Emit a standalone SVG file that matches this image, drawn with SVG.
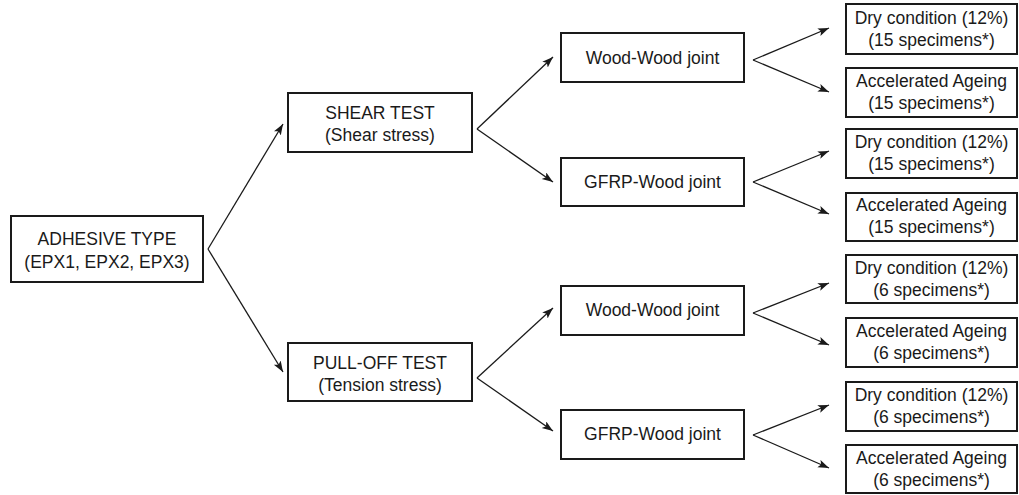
<svg xmlns="http://www.w3.org/2000/svg" width="1019" height="495" viewBox="0 0 1019 495">
  <style>
    .box { fill: #ffffff; stroke: #1a1a1a; stroke-width: 2; }
    .lbl { font-family: "Liberation Sans", Arial, sans-serif; font-size: 17.5px; fill: #1a1a1a; text-anchor: middle; }
    .edge { stroke: #1a1a1a; stroke-width: 1.3; fill: none; marker-end: url(#arrow); }
  </style>
  <defs>
    <marker id="arrow" markerUnits="userSpaceOnUse" markerWidth="12" markerHeight="9" refX="11" refY="4" orient="auto">
      <path d="M0,0 L11,4 L0,8 L2.5,4 z" fill="#1a1a1a"/>
    </marker>
  </defs>

  <rect width="1019" height="495" fill="#ffffff"/>

  <!-- connectors -->
  <g id="connectors">
    <line class="edge" x1="208" y1="249" x2="283" y2="124"/>
    <line class="edge" x1="208" y1="249" x2="283" y2="372"/>

    <line class="edge" x1="477" y1="129" x2="553" y2="57"/>
    <line class="edge" x1="477" y1="129" x2="553" y2="182"/>
    <line class="edge" x1="477" y1="378" x2="553" y2="308"/>
    <line class="edge" x1="477" y1="378" x2="553" y2="431"/>

    <line class="edge" x1="753" y1="60" x2="829" y2="28"/>
    <line class="edge" x1="753" y1="60" x2="829" y2="92"/>
    <line class="edge" x1="753" y1="182" x2="829" y2="151"/>
    <line class="edge" x1="753" y1="182" x2="829" y2="214"/>
    <line class="edge" x1="753" y1="313" x2="829" y2="283"/>
    <line class="edge" x1="753" y1="313" x2="829" y2="345"/>
    <line class="edge" x1="753" y1="435" x2="829" y2="405"/>
    <line class="edge" x1="753" y1="435" x2="829" y2="468"/>
  </g>

  <!-- root -->
  <g id="adhesive">
    <rect class="box" x="11" y="216" width="192" height="66"/>
    <text class="lbl" x="107" y="245">ADHESIVE TYPE</text>
    <text class="lbl" x="107" y="268">(EPX1, EPX2, EPX3)</text>
  </g>

  <!-- test types -->
  <g id="shear">
    <rect class="box" x="288" y="93" width="184" height="59"/>
    <text class="lbl" x="380" y="119">SHEAR TEST</text>
    <text class="lbl" x="380" y="141">(Shear stress)</text>
  </g>
  <g id="pulloff">
    <rect class="box" x="288" y="343" width="184" height="58"/>
    <text class="lbl" x="380" y="369">PULL-OFF TEST</text>
    <text class="lbl" x="380" y="391">(Tension stress)</text>
  </g>

  <!-- joint types -->
  <g id="shear-wood">
    <rect class="box" x="561" y="33" width="183" height="49"/>
    <text class="lbl" x="652.5" y="64">Wood-Wood joint</text>
  </g>
  <g id="shear-gfrp">
    <rect class="box" x="561" y="158" width="183" height="48"/>
    <text class="lbl" x="652.5" y="188">GFRP-Wood joint</text>
  </g>
  <g id="pull-wood">
    <rect class="box" x="561" y="286" width="183" height="49"/>
    <text class="lbl" x="652.5" y="316">Wood-Wood joint</text>
  </g>
  <g id="pull-gfrp">
    <rect class="box" x="561" y="410" width="183" height="49"/>
    <text class="lbl" x="652.5" y="440">GFRP-Wood joint</text>
  </g>

  <!-- conditioning -->
  <g id="sw-dry">
    <rect class="box" x="846" y="4" width="171" height="50"/>
    <text class="lbl" x="931.5" y="24">Dry condition (12%)</text>
    <text class="lbl" x="931.5" y="46">(15 specimens*)</text>
  </g>
  <g id="sw-aged">
    <rect class="box" x="846" y="68" width="171" height="49"/>
    <text class="lbl" x="931.5" y="87">Accelerated Ageing</text>
    <text class="lbl" x="931.5" y="109">(15 specimens*)</text>
  </g>
  <g id="sg-dry">
    <rect class="box" x="846" y="129" width="171" height="49"/>
    <text class="lbl" x="931.5" y="148">Dry condition (12%)</text>
    <text class="lbl" x="931.5" y="170">(15 specimens*)</text>
  </g>
  <g id="sg-aged">
    <rect class="box" x="846" y="193" width="171" height="48"/>
    <text class="lbl" x="931.5" y="211">Accelerated Ageing</text>
    <text class="lbl" x="931.5" y="233">(15 specimens*)</text>
  </g>
  <g id="pw-dry">
    <rect class="box" x="846" y="255" width="171" height="48"/>
    <text class="lbl" x="931.5" y="274">Dry condition (12%)</text>
    <text class="lbl" x="931.5" y="296">(6 specimens*)</text>
  </g>
  <g id="pw-aged">
    <rect class="box" x="846" y="318" width="171" height="49"/>
    <text class="lbl" x="931.5" y="337">Accelerated Ageing</text>
    <text class="lbl" x="931.5" y="359">(6 specimens*)</text>
  </g>
  <g id="pg-dry">
    <rect class="box" x="846" y="382" width="171" height="49"/>
    <text class="lbl" x="931.5" y="401">Dry condition (12%)</text>
    <text class="lbl" x="931.5" y="423">(6 specimens*)</text>
  </g>
  <g id="pg-aged">
    <rect class="box" x="846" y="445" width="171" height="48"/>
    <text class="lbl" x="931.5" y="464">Accelerated Ageing</text>
    <text class="lbl" x="931.5" y="486">(6 specimens*)</text>
  </g>
</svg>
